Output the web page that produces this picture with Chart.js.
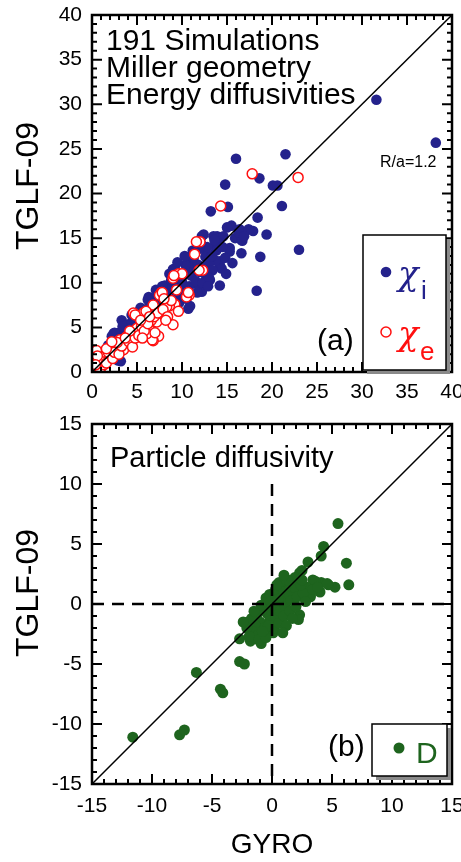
<!DOCTYPE html>
<html lang="en">
<head>
<meta charset="UTF-8">
<title>TGLF-09 vs GYRO</title>
<script src="https://cdn.jsdelivr.net/npm/chart.js"></script>
<style>
  body { margin: 0; background: #fff; }
  #wrap { position: relative; width: 461px; height: 862px; }
  canvas { position: absolute; left: 0; }
  #topChart { top: 0; }
  #botChart { top: 410px; }
</style>
</head>
<body>
<div id="wrap">
  <canvas id="topChart" width="461" height="410"></canvas>
  <canvas id="botChart" width="461" height="452"></canvas>
</div>
<script>
// ---- data ----
// panel (a): ion energy diffusivity chi_i
const chiI_gyro = [31.6,38.2,14.8,16.0,18.6,20.1,20.6,21.5,15.1,13.2,21.1,18.4,15.5,16.4,17.9,19.4,13.9,14.6,15.9,16.6,
  12.2,13.7,15.3,23.0,16.6,18.7,12.7,14.2,14.4,14.2,18.3,13.1,16.7,12.4,13.5,
  9.2,10.9,12.6,14.2,10.7,8.1,6.3,3.3,2.4,5.3,15.3,9.8,11.6,12.2,6.4,2.0,8.3,13.7,12.7,10.0,8.5,7.6,2.2,2.9,5.5,9.0,
  10.2,10.6,11.0,11.4,11.8,12.0,12.5,13.0,13.3,13.8,14.0,12.8,11.9,11.3,10.4,9.6,9.0,8.8,8.0,7.5,7.0,6.8,6.0,5.8,
  5.0,4.6,4.2,4.0,3.6,3.0,2.6,1.8,1.4,1.0,0.6,0.4,1.2,2.8,3.2,4.8,5.6,6.6,7.2,8.2,9.4,10.1,10.8,11.5,12.3,13.4,13.0,
  11.7,12.9,10.5,9.7,10.9,14.8,15.6,14.9,14.5,13.6,12.1,11.2,10.3,9.5,8.6,7.8,7.1,6.2,5.4,4.4,3.8,3.4,2.5,16.3,15.0,17.4,16.9];
const chiI_tglf = [30.5,25.7,21.0,23.9,21.7,20.9,20.9,24.4,18.5,18.0,18.6,17.3,16.4,16.0,15.8,15.4,15.2,15.2,15.0,14.8,
  15.2,14.2,13.9,13.7,13.3,12.9,13.1,12.4,11.6,9.7,9.1,10.3,14.7,15.4,15.2,
  11.6,12.4,12.9,12.0,7.1,9.7,8.4,5.8,4.3,6.9,13.5,9.9,9.9,9.0,7.3,2.5,8.4,12.5,10.7,10.1,9.2,8.1,4.0,1.3,6.6,11.5,
  11.0,11.3,10.8,11.6,12.0,11.2,11.8,12.2,13.0,13.6,14.4,14.0,13.8,12.8,12.0,10.6,9.6,10.3,9.0,8.8,8.2,7.8,7.0,6.2,
  6.3,5.8,5.4,4.9,4.6,4.4,3.6,3.0,2.2,1.6,1.0,0.5,0.8,2.0,1.2,4.0,5.2,6.2,6.8,7.6,8.6,9.0,9.6,10.2,10.0,11.4,10.6,
  8.9,9.6,8.2,7.8,7.4,12.8,12.2,11.0,14.0,14.8,14.4,13.6,13.0,12.3,11.0,9.6,9.2,8.1,7.2,6.4,5.2,5.1,4.4,15.6,16.2,16.0,15.2];
// panel (a): electron energy diffusivity chi_e
const chiE_gyro = [17.8,22.9,14.3,12.0,11.4,12.3,9.6,9.0,7.7,7.5,10.8,9.2,8.6,6.8,9.6,4.6,5.7,7.2,9.0,6.4,5.0,7.4,6.8,4.4,3.1,
  2.0,0.5,0.3,1.3,2.7,3.9,2.0,0.9,3.5,11.6,11.9,10.0,7.8,8.3,10.5,6.0,4.8,6.7,3.5,0.9,1.3,3.9,6.1,5.5,6.6,10.7,
  1.0,1.6,1.8,2.3,2.5,3.0,3.3,4.1,4.5,4.8,5.2,5.8,6.2,6.9,7.3,7.9,8.4,8.8,9.4,9.1,8.0,5.4,4.2,2.8,1.6,0.6,0.4,2.2,3.7,7.0,6.4,5.6,8.2];
const chiE_tglf = [22.2,21.8,18.6,14.6,13.2,11.4,11.0,10.5,8.9,8.6,8.6,7.6,7.4,7.5,6.8,6.6,6.6,5.6,5.3,4.7,4.9,4.0,3.5,3.6,3.6,
  2.8,2.4,1.2,1.7,2.8,3.0,1.7,0.4,2.5,14.6,11.4,11.0,8.9,7.3,8.4,6.8,6.4,3.6,3.2,0.0,0.8,4.0,4.3,5.1,5.8,8.9,
  1.2,1.0,2.2,1.5,2.2,2.0,2.9,3.4,2.8,3.8,4.1,4.6,5.4,6.2,6.6,7.0,6.2,8.0,9.2,10.8,8.2,5.8,4.6,3.3,2.6,1.8,0.8,3.4,3.8,4.4,6.2,3.8,5.8];
// panel (b): particle diffusivity D
const D_gyro = [5.5,4.3,4.1,6.2,6.4,5.25,4.7,4.1,4.0,3.4,3.0,2.5,3.2,2.3,2.9,2.3,4.6,3.6,1.2,0.5,0.0,2.2,-2.0,-1.3,3.2,
  -6.3,-4.3,-4.1,-2.7,-2.3,-11.6,-7.7,-7.3,-2.7,-1.8,-0.9,-1.8,-1.3,0.1,-0.4,
  -0.5,-0.2,0.3,0.8,1.0,1.5,1.8,2.0,1.4,0.8,0.4,0.0,-0.4,-0.8,-1.0,-1.4,-1.6,-1.2,-0.6,-0.2,0.3,0.7,1.1,1.6,2.1,2.6,
  2.4,1.9,1.3,0.6,-0.9,-1.7,-2.1,-1.9,-1.1,-0.5,0.2,0.6,1.0,1.5,2.0,2.8,3.4,3.8,1.7,1.2,0.9,-0.1,0.5,-0.3,-0.8,-1.5,
  2.5,1.0,0.4,-2.4];
const D_tglf = [6.7,4.8,4.0,3.4,1.6,1.4,1.6,1.8,1.0,2.0,3.5,2.8,0.6,-0.9,1.4,2.6,1.7,1.9,1.6,0.9,0.6,-1.3,-1.5,-1.1,0.75,
  -5.7,-7.1,-7.4,-4.8,-5.0,-11.1,-10.9,-10.5,-2.9,-3.1,-3.3,-1.75,-1.1,-2.4,-0.2,
  0.5,0.8,1.2,1.4,1.0,1.3,1.8,1.2,0.6,0.2,-0.3,-0.6,-0.8,-0.5,-1.5,-1.8,-2.3,-2.6,-2.0,-1.4,-1.0,-0.6,-0.2,0.3,0.6,0.9,
  1.6,2.2,2.0,1.8,-0.1,-1.2,-2.0,-2.7,-3.0,-2.8,-2.0,-1.6,-1.0,-0.6,-0.2,0.2,1.2,1.4,-1.2,-1.8,-2.4,0.2,0.4,-1.8,-2.3,-0.6,
  2.0,2.4,1.6,-1.5];

const topRange = [0, 40];
const botRange = [-15, 15];
const topTicks = [0, 5, 10, 15, 20, 25, 30, 35, 40];
const botTicks = [-15, -10, -5, 0, 5, 10, 15];
const zeroLineTop = 10; // vertical dashed line in (b) runs from here down

const FONT = '"Liberation Sans", Arial, Helvetica, sans-serif';
const BLUE = '#24228c';
const RED = '#ff1010';
const GREEN = '#1e641e';

const pts = (xs, ys) => xs.map((x, i) => ({ x: x, y: ys[i] }));

// frame + inward major/minor ticks on all four sides
function drawFrame(chart, range) {
  const { ctx, chartArea: a, scales } = chart;
  ctx.save();
  ctx.strokeStyle = '#000';
  ctx.lineWidth = 2;
  for (let v = range[0]; v <= range[1]; v++) {
    const len = (v % 5 === 0) ? 10 : 5;
    const px = scales.x.getPixelForValue(v);
    const py = scales.y.getPixelForValue(v);
    ctx.beginPath();
    ctx.moveTo(px, a.bottom); ctx.lineTo(px, a.bottom - len);
    ctx.moveTo(px, a.top); ctx.lineTo(px, a.top + len);
    ctx.moveTo(a.left, py); ctx.lineTo(a.left + len, py);
    ctx.moveTo(a.right, py); ctx.lineTo(a.right - len, py);
    ctx.stroke();
  }
  ctx.lineWidth = 2.5;
  ctx.strokeRect(a.left, a.top, a.right - a.left, a.bottom - a.top);
  ctx.restore();
}

function legendBox(ctx, x0, y0, x1, y1) {
  ctx.fillStyle = '#8a8a8a';
  ctx.fillRect(x0 + 4, y0 + 4, x1 - x0, y1 - y0);
  ctx.fillStyle = '#fff';
  ctx.fillRect(x0, y0, x1 - x0, y1 - y0);
  ctx.strokeStyle = '#000';
  ctx.lineWidth = 1.5;
  ctx.strokeRect(x0, y0, x1 - x0, y1 - y0);
}

function yTitle(ctx, cy) {
  ctx.save();
  ctx.translate(38, cy);
  ctx.rotate(-Math.PI / 2);
  ctx.font = '32px ' + FONT;
  ctx.fillStyle = '#000';
  ctx.textAlign = 'center';
  ctx.textBaseline = 'alphabetic';
  ctx.fillText('TGLF-09', 0, 0);
  ctx.restore();
}

const topExtras = {
  id: 'topExtras',
  afterDraw(chart) {
    const ctx = chart.ctx;
    drawFrame(chart, topRange);
    ctx.save();
    ctx.fillStyle = '#000';
    ctx.textAlign = 'left';
    ctx.textBaseline = 'alphabetic';
    ctx.font = '30px ' + FONT;
    ctx.fillText('191 Simulations', 106, 50);
    ctx.fillText('Miller geometry', 106, 77);
    ctx.fillText('Energy diffusivities', 106, 104);
    ctx.font = '16px ' + FONT;
    ctx.fillText('R/a=1.2', 380, 167);
    yTitle(ctx, 186);

    legendBox(ctx, 363, 235, 446, 370);
    ctx.fillStyle = BLUE;
    ctx.beginPath(); ctx.arc(386, 272, 5.3, 0, Math.PI * 2); ctx.fill();
    ctx.font = 'italic 34px "DejaVu Serif", serif';
    ctx.fillText('\u03c7', 398, 285);
    ctx.font = '26px ' + FONT;
    ctx.fillText('i', 421, 299);
    ctx.strokeStyle = RED; ctx.fillStyle = '#fff'; ctx.lineWidth = 1.5;
    ctx.beginPath(); ctx.arc(386, 332, 5, 0, Math.PI * 2); ctx.fill(); ctx.stroke();
    ctx.fillStyle = RED;
    ctx.font = 'italic 34px "DejaVu Serif", serif';
    ctx.fillText('\u03c7', 398, 345);
    ctx.font = '26px ' + FONT;
    ctx.fillText('e', 420, 360);

    ctx.fillStyle = '#000';
    ctx.font = '30px ' + FONT;
    ctx.textBaseline = 'middle';
    ctx.fillText('(a)', 317, 342);
    ctx.restore();
  }
};

const botExtras = {
  id: 'botExtras',
  afterDraw(chart) {
    const ctx = chart.ctx;
    drawFrame(chart, botRange);
    ctx.save();
    ctx.fillStyle = '#000';
    ctx.textBaseline = 'alphabetic';
    ctx.font = '29px ' + FONT;
    ctx.fillText('Particle diffusivity', 110, 57);
    yTitle(ctx, 183);
    ctx.font = '28px ' + FONT;
    ctx.textAlign = 'center';
    ctx.fillText('GYRO', 272, 443);
    ctx.textAlign = 'left';

    legendBox(ctx, 372, 314, 447, 366);
    ctx.fillStyle = GREEN;
    ctx.beginPath(); ctx.arc(399, 338, 5.5, 0, Math.PI * 2); ctx.fill();
    ctx.font = '30px ' + FONT;
    ctx.fillText('D', 416, 353);

    ctx.fillStyle = '#000';
    ctx.textBaseline = 'middle';
    ctx.fillText('(b)', 328, 338);
    ctx.restore();
  }
};

function axis(range, ticks, fitProp, fitVal, pad) {
  return {
    type: 'linear',
    min: range[0],
    max: range[1],
    afterBuildTicks: s => { s.ticks = ticks.map(v => ({ value: v })); },
    ticks: { color: '#000', font: { size: 21, family: FONT }, padding: pad, maxRotation: 0, autoSkip: false },
    grid: { display: false, drawTicks: false },
    border: { display: false },
    afterFit: s => {
      s[fitProp] = fitVal;
      s.paddingLeft = 0; s.paddingRight = 0; s.paddingTop = 0; s.paddingBottom = 0;
    }
  };
}

function baseOptions(range, ticks, padTop, xHeight, xPad) {
  return {
    responsive: false,
    animation: false,
    layout: { autoPadding: false, padding: { top: padTop, right: 9, left: 0, bottom: 0 } },
    plugins: { legend: { display: false }, tooltip: { enabled: false } },
    scales: {
      x: axis(range, ticks, 'height', xHeight, xPad),
      y: axis(range, ticks, 'width', 92, 10)
    }
  };
}

new Chart(document.getElementById('topChart'), {
  type: 'scatter',
  data: {
    datasets: [
      { type: 'line', data: pts(topRange, topRange), borderColor: '#000', borderWidth: 1.5, pointRadius: 0, order: 0 },
      { data: pts(chiE_gyro, chiE_tglf), pointRadius: 5, pointBorderWidth: 1.5,
        pointBorderColor: RED, pointBackgroundColor: '#fff', order: 1 },
      { data: pts(chiI_gyro, chiI_tglf), pointRadius: 5.3, pointBorderWidth: 0,
        pointBackgroundColor: BLUE, pointBorderColor: BLUE, order: 2 }
    ]
  },
  options: baseOptions(topRange, topTicks, 15, 38, 8),
  plugins: [topExtras]
});

new Chart(document.getElementById('botChart'), {
  type: 'scatter',
  data: {
    datasets: [
      { type: 'line', data: pts(botRange, botRange), borderColor: '#000', borderWidth: 1.5, pointRadius: 0, order: 0 },
      { type: 'line', data: [{ x: botRange[0], y: 0 }, { x: botRange[1], y: 0 }], borderColor: '#000',
        borderWidth: 2.5, borderDash: [12, 8], pointRadius: 0, order: 0 },
      { type: 'line', data: [{ x: 0, y: zeroLineTop }, { x: 0, y: botRange[0] }], borderColor: '#000',
        borderWidth: 2.5, borderDash: [12, 8], pointRadius: 0, order: 0 },
      { data: pts(D_gyro, D_tglf), pointRadius: 5.5, pointBorderWidth: 0,
        pointBackgroundColor: GREEN, pointBorderColor: GREEN, order: 1 }
    ]
  },
  options: baseOptions(botRange, botTicks, 14, 78, 10),
  plugins: [botExtras]
});
</script>
</body>
</html>
